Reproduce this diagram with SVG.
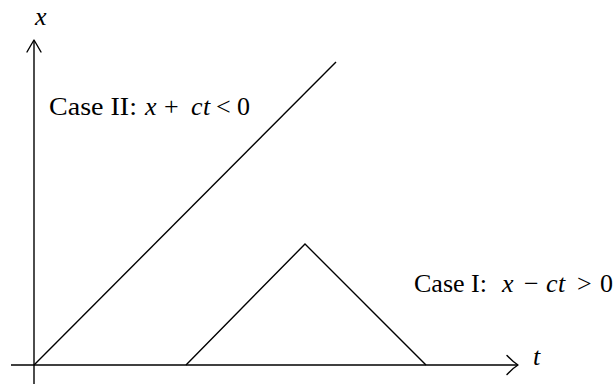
<svg xmlns="http://www.w3.org/2000/svg" width="616" height="384" viewBox="0 0 616 384">
<style>
.ln{stroke:#000;stroke-width:1.4;fill:none;stroke-linecap:butt}
.ah{stroke:#000;stroke-width:1.4;fill:none;stroke-linecap:round;stroke-linejoin:round}
.tx{font-family:"Liberation Serif","Times New Roman",serif;font-size:26px;fill:#000}
.it{font-style:italic}
</style>
<rect width="616" height="384" fill="#fff"/>
<g id="axes">
<line class="ln" x1="11" y1="365" x2="517" y2="365"/>
<path class="ah" d="M507,355.5 Q513,362 518,365 Q513,368 507,374.5"/>
<line class="ln" x1="34" y1="384" x2="34" y2="41"/>
<path class="ah" d="M27,52 Q31,45 34,40 Q37,45 41,52"/>
</g>
<g id="connectors">
<line class="ln" x1="34" y1="365" x2="336" y2="62"/>
<polyline class="ln" points="186,365 305,244 426,365"/>
</g>
<g id="labels">
<text class="tx it" x="35" y="25">x</text>
<text class="tx it" x="533" y="365">t</text>
<g id="case2">
<text class="tx" x="49" y="115" textLength="88" lengthAdjust="spacingAndGlyphs">Case II:</text>
<text class="tx it" x="145" y="115">x</text>
<text class="tx" x="164" y="115">+</text>
<text class="tx it" x="191" y="115">c</text>
<text class="tx it" x="203" y="115">t</text>
<text class="tx" x="216" y="115">&lt;</text>
<text class="tx" x="237" y="115">0</text>
</g>
<g id="case1">
<text class="tx" x="414" y="292" textLength="73" lengthAdjust="spacingAndGlyphs">Case I:</text>
<text class="tx it" x="502" y="292">x</text>
<text class="tx" x="524" y="292">−</text>
<text class="tx it" x="546" y="292">c</text>
<text class="tx it" x="558" y="292">t</text>
<text class="tx" x="577" y="292">&gt;</text>
<text class="tx" x="600" y="292">0</text>
</g>
</g>
</svg>
